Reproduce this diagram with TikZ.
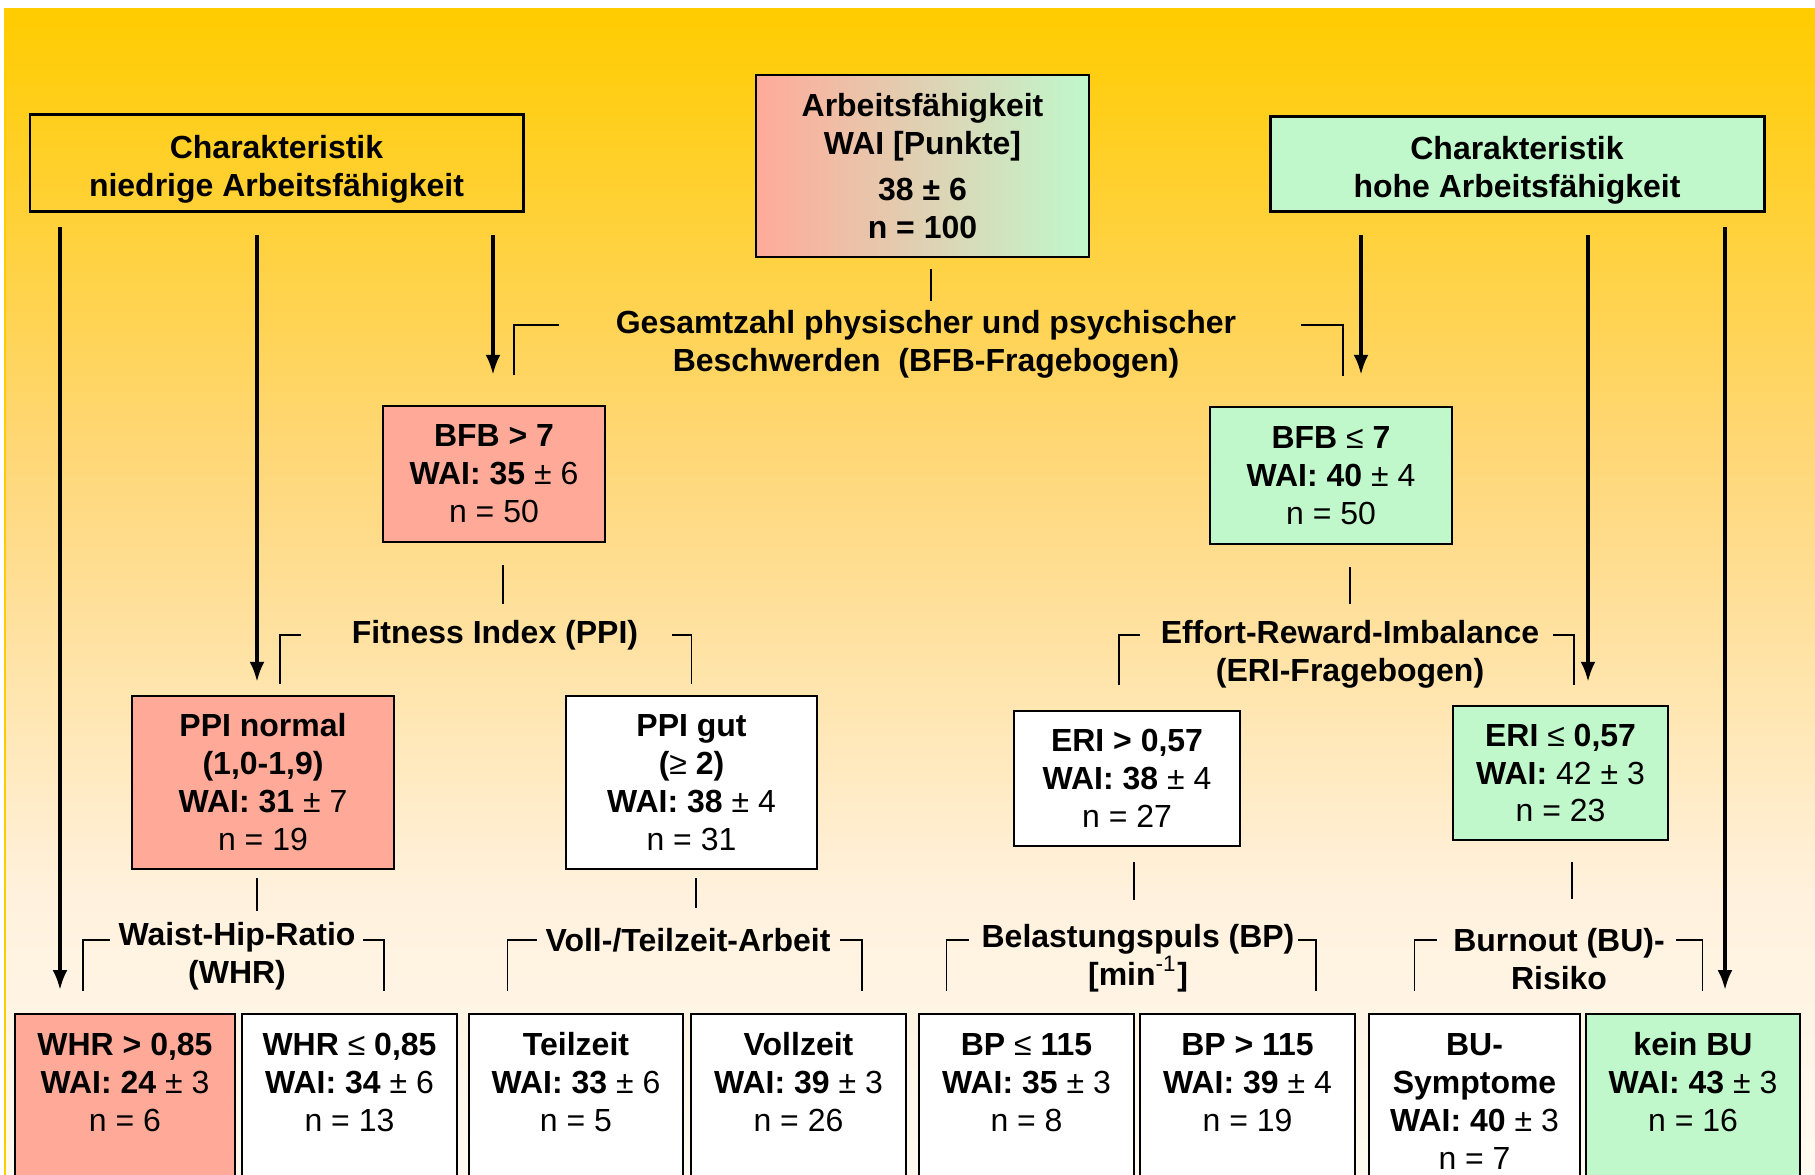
\documentclass[tikz,border=0pt]{standalone}
\usepackage{fontspec}
\setmainfont{Liberation Sans}
\usetikzlibrary{arrows.meta,positioning}
\definecolor{salmon}{HTML}{FFAA99}
\definecolor{mint}{HTML}{C0F8CC}
\definecolor{bgtop}{HTML}{FFCC00}
\definecolor{bgmid}{HTML}{FFD777}
\definecolor{bglow}{HTML}{FFF1DD}
\definecolor{bgbot}{HTML}{FFFAF0}
\pgfdeclareverticalshading{bgshade}{100bp}{color(0bp)=(bgbot); color(25bp)=(bgbot); color(37bp)=(bglow); color(56bp)=(bgmid); color(75bp)=(bgtop); color(100bp)=(bgtop)}

\begin{document}
\begin{tikzpicture}[x=0.1mm,y=-0.1mm,font=\fontsize{9.1}{10.8}\selectfont\bfseries,
		box/.style={draw,line width=0.65pt,align=center,inner sep=0pt},
		hdr/.style={box,line width=0.85pt,text height=20.6pt,text depth=1.9pt},
		lab/.style={align=center,inner sep=0pt},
		bbox/.style={box,anchor=north,minimum width=21.5mm,text height=33.4pt,text depth=30pt},
		stem/.style={line width=0.5pt},
		arr/.style={line width=1pt,-{Latex[length=2mm,width=1.5mm]}}]
		\useasboundingbox (0,0) rectangle (1815,1175);
		%Background
		\shade[shading=bgshade] (4,9) rectangle (1815,1175);
		\draw[bgtop,line width=0.6pt] (5,9) -- (5,1175);
		%Top
		\node[box,left color=salmon,right color=mint,minimum width=33.3mm,minimum height=18.2mm] (wai) at (922.5,166) {Arbeitsfähigkeit\\WAI [Punkte]\\[0.8mm]38 ± 6\\n = 100};
		\node[hdr,minimum width=49.3mm,minimum height=9.7mm] (lowhdr) at (276.5,163.5) {Charakteristik\\niedrige Arbeitsfähigkeit};
		\node[hdr,fill=mint,minimum width=49.4mm,minimum height=9.5mm] (highdr) at (1517,164.5) {Charakteristik\\hohe Arbeitsfähigkeit};
		%Level 1
		\node[lab] (bfblab) at (926,344) {Gesamtzahl physischer und psychischer\\Beschwerden\ \ (BFB-Fragebogen)};
		\node[box,fill=salmon,minimum width=22.2mm,minimum height=13.6mm] (bfbhi) at (494,474) {BFB > 7\\WAI: 35 \textmd{± 6}\\\textmd{n = 50}};
		\node[box,fill=mint,minimum width=24.2mm,minimum height=13.7mm] (bfblo) at (1331,475.5) {BFB \textmd{≤} 7\\WAI: 40 \textmd{± 4}\\\textmd{n = 50}};
		%Level 2
		\node[lab] (ppilab) at (495,635) {Fitness Index (PPI)};
		\node[lab] (erilab) at (1350,654) {Effort-Reward-Imbalance\\(ERI-Fragebogen)};
		\node[box,fill=salmon,minimum width=26.2mm,minimum height=17.3mm] (ppinorm) at (263,782.5) {PPI normal\\(1,0-1,9)\\WAI: 31 \textmd{± 7}\\\textmd{n = 19}};
		\node[box,fill=white,minimum width=25.1mm,minimum height=17.3mm] (ppigut) at (691.5,782.5) {PPI gut\\(\textmd{≥} 2)\\WAI: 38 \textmd{± 4}\\\textmd{n = 31}};
		\node[box,fill=white,minimum width=22.6mm,minimum height=13.5mm] (erihi) at (1127,778.5) {ERI > 0,57\\WAI: 38 \textmd{± 4}\\\textmd{n = 27}};
		\node[box,fill=mint,minimum width=21.5mm,minimum height=13.4mm] (erilo) at (1560.5,773) {ERI \textmd{≤} 0,57\\WAI: \textmd{42 ± 3}\\\textmd{n = 23}};
		%Level 3
		\node[lab] (whrlab) at (237,956) {Waist-Hip-Ratio\\(WHR)};
		\node[lab] (teillab) at (688,940) {Voll-/Teilzeit-Arbeit};
		\node[lab] (bplab) at (1138,958) {Belastungspuls (BP)\\{[}min\textsuperscript{\textmd{-1}}]};
		\node[lab] (bulab) at (1559,959) {Burnout (BU)-\\Risiko};
		\node[bbox,fill=salmon,minimum width=22mm] (whrhi) at (125,1013) {WHR > 0,85\\WAI: 24 \textmd{± 3}\\\textmd{n = 6}};
		\node[bbox,fill=white] (whrlo) at (349.5,1013) {WHR \textmd{≤} 0,85\\WAI: 34 \textmd{± 6}\\\textmd{n = 13}};
		\node[bbox,fill=white,minimum width=21.4mm] (teil) at (576,1013) {Teilzeit\\WAI: 33 \textmd{± 6}\\\textmd{n = 5}};
		\node[bbox,fill=white] (voll) at (798.5,1013) {Vollzeit\\WAI: 39 \textmd{± 3}\\\textmd{n = 26}};
		\node[bbox,fill=white] (bplo) at (1026.5,1013) {BP \textmd{≤} 115\\WAI: 35 \textmd{± 3}\\\textmd{n = 8}};
		\node[bbox,fill=white] (bphi) at (1247.5,1013) {BP > 115\\WAI: 39 \textmd{± 4}\\\textmd{n = 19}};
		\node[bbox,fill=white,minimum width=21.1mm,text height=44.2pt] (busym) at (1474.5,1013) {BU-\\Symptome\\WAI: 40 \textmd{± 3}\\\textmd{n = 7}};
		\node[bbox,fill=mint,minimum width=21.4mm] (kein) at (1693,1013) {kein BU\\WAI: 43 \textmd{± 3}\\\textmd{n = 16}};
		%Arrows
		\draw[arr,shorten <=1.4mm,shorten >=2.3mm] ([xshift=-6.5mm]lowhdr.south -| whrhi.north) -- ([xshift=-6.5mm]whrhi.north);
		\draw[arr,shorten <=2.2mm,shorten >=1.3mm] ([xshift=-0.6mm]lowhdr.south -| ppinorm.north) -- ([xshift=-0.6mm]ppinorm.north);
		\draw[arr,shorten <=2.2mm,shorten >=3mm] ([xshift=-0.1mm]lowhdr.south -| bfbhi.north) -- ([xshift=-0.1mm]bfbhi.north);
		\draw[arr,shorten <=2.2mm,shorten >=3.1mm] ([xshift=3mm]highdr.south -| bfblo.north) -- ([xshift=3mm]bfblo.north);
		\draw[arr,shorten <=2.2mm,shorten >=2.3mm] ([xshift=2.75mm]highdr.south -| erilo.north) -- ([xshift=2.75mm]erilo.north);
		\draw[arr,shorten <=1.4mm,shorten >=2.3mm] ([xshift=3.2mm]highdr.south -| kein.north) -- ([xshift=3.2mm]kein.north);
		%Stems
		\draw[stem,shorten <=1.1mm,shorten >=0.8mm] ([xshift=0.85mm]wai.south) -- ([xshift=0.85mm]wai.south |- bfblab.north);
		\draw[stem,shorten <=2.2mm,shorten >=1.5mm] ([xshift=0.9mm]bfbhi.south) -- ([xshift=0.9mm]bfbhi.south |- ppilab.north);
		\draw[stem,shorten <=2.2mm,shorten >=1.5mm] ([xshift=1.9mm]bfblo.south) -- ([xshift=1.9mm]bfblo.south |- erilab.north);
		\draw[stem,shorten <=0.8mm,shorten >=1mm] ([xshift=-0.6mm]ppinorm.south) -- ([xshift=-0.6mm]ppinorm.south |- whrlab.north);
		\draw[stem,shorten <=0.8mm,shorten >=1.9mm] ([xshift=0.45mm]ppigut.south) -- ([xshift=0.45mm]ppigut.south |- teillab.north);
		\draw[stem,shorten <=1.5mm,shorten >=2.3mm] ([xshift=0.7mm]erihi.south) -- ([xshift=0.7mm]erihi.south |- bplab.north);
		\draw[stem,shorten <=2.1mm,shorten >=2.9mm] ([xshift=1.15mm]erilo.south) -- ([xshift=1.15mm]erilo.south |- bulab.north);
		%Brackets
		\draw[stem,shorten >=3mm] ([shift={(-56,-19)}]bfblab.west) -| ([xshift=2mm]bfbhi.north);
		\draw[stem,shorten >=3mm] ([shift={(64,-19)}]bfblab.east) -| ([xshift=1.2mm]bfblo.north);
		\draw[stem,shorten >=1.1mm] ([xshift=-5mm]ppilab.west) -| ([xshift=1.7mm]ppinorm.north);
		\draw[stem,shorten >=1.1mm] ([xshift=3.3mm]ppilab.east) -| (ppigut.north);
		\draw[stem,shorten >=2.5mm] ([shift={(-20,-19)}]erilab.west) -| ([xshift=-0.8mm]erihi.north);
		\draw[stem,shorten >=2mm] ([shift={(13,-19)}]erilab.east) -| ([xshift=1.35mm]erilo.north);
		\draw[stem,shorten >=2.2mm] ([shift={(-8,-16)}]whrlab.west) -| ([xshift=-4.2mm]whrhi.north);
		\draw[stem,shorten >=2.2mm] ([shift={(7,-16)}]whrlab.east) -| ([xshift=3.45mm]whrlo.north);
		\draw[stem,shorten >=2.2mm] ([xshift=-0.8mm]teillab.west) -| ([xshift=-6.85mm]teil.north);
		\draw[stem,shorten >=2.2mm] ([xshift=0.9mm]teillab.east) -| ([xshift=6.35mm]voll.north);
		\draw[stem,shorten >=2.2mm] ([shift={(-12,-18)}]bplab.west) -| ([xshift=-8mm]bplo.north);
		\draw[stem,shorten >=2.2mm] ([shift={(3,-18)}]bplab.east) -| ([xshift=6.85mm]bphi.north);
		\draw[stem,shorten >=2.2mm] ([shift={(-16,-19)}]bulab.west) -| ([xshift=-6mm]busym.north);
		\draw[stem,shorten >=2.2mm] ([shift={(11,-19)}]bulab.east) -| ([xshift=0.95mm]kein.north);
\end{tikzpicture}
\end{document}
